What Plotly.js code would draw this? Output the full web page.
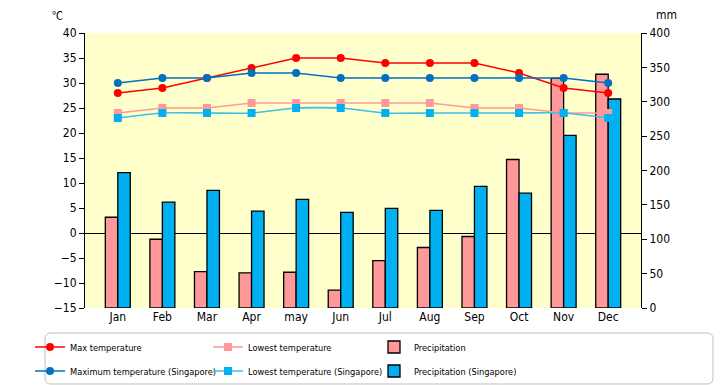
<!DOCTYPE html>
<html>
<head>
<meta charset="utf-8">
<script src="https://cdn.plot.ly/plotly-3.0.1.min.js"></script>
<style>html,body{margin:0;padding:0;background:#fff;}#chart{width:720px;height:385px;}</style>
</head>
<body>
<div id="chart"></div>
<script>
const months = ["Jan","Feb","Mar","Apr","may","Jun","Jul","Aug","Sep","Oct","Nov","Dec"];
const maxTemp = [28,29,31,33,35,35,34,34,34,32,29,28];
const lowTemp = [24,25,25,26,26,26,26,26,25,25,24,24];
const precip = [132,100,53,51,52,26,69,88,104,216,334,340];
const maxTempSg = [30,31,31,32,32,31,31,31,31,31,31,30];
const lowTempSg = [23,24,24,24,25,25,24,24,24,24,24,23];
const precipSg = [197,154,171,141,158,139,145,142,177,167,251,304];

const FONT = '"DejaVu Sans Condensed", "Liberation Sans", sans-serif';

const traces = [
  {type:'bar', name:'Precipitation', x:months, y:precip, yaxis:'y', legend:'legend3',
   marker:{color:'#FF9999', line:{color:'#000', width:1.3}}},
  {type:'bar', name:'Precipitation (Singapore)', x:months, y:precipSg, yaxis:'y', legend:'legend6',
   marker:{color:'#00B0F0', line:{color:'#000', width:1.3}}},
  {type:'scatter', mode:'lines+markers', name:'Max temperature', x:months, y:maxTemp, yaxis:'y2', legend:'legend',
   line:{color:'#FF0000', width:1.4}, marker:{symbol:'circle', size:8, color:'#FF0000'}},
  {type:'scatter', mode:'lines+markers', name:'Lowest temperature', x:months, y:lowTemp, yaxis:'y2', legend:'legend2',
   line:{color:'#FF9999', width:1.4}, marker:{symbol:'square', size:8, color:'#FF9999'}},
  {type:'scatter', mode:'lines+markers', name:'Maximum temperature (Singapore)', x:months, y:maxTempSg, yaxis:'y2', legend:'legend4',
   line:{color:'#0070C0', width:1.4}, marker:{symbol:'circle', size:8, color:'#0070C0'}},
  {type:'scatter', mode:'lines+markers', name:'Lowest temperature (Singapore)', x:months, y:lowTempSg, yaxis:'y2', legend:'legend5',
   line:{color:'#3CC0E8', width:1.6, shape:'spline', smoothing:0.6}, marker:{symbol:'square', size:8, color:'#00B0F0'}}
];

const L = 85, R = 641, T = 33, B = 308;
const pw = R - L, ph = B - T;
function px(x){ return (x - L) / pw; }
function py(y){ return (B - y) / ph; }
const bx0 = px(45), bx1 = px(713), by0 = py(384), by1 = py(333);
const rx = 6 / pw, ry = 6 / ph;
const framePath = `M ${bx0+rx} ${by1} L ${bx1-rx} ${by1} Q ${bx1} ${by1} ${bx1} ${by1-ry} L ${bx1} ${by0+ry} Q ${bx1} ${by0} ${bx1-rx} ${by0} L ${bx0+rx} ${by0} Q ${bx0} ${by0} ${bx0} ${by0+ry} L ${bx0} ${by1-ry} Q ${bx0} ${by1} ${bx0+rx} ${by1} Z`;

function leg(textX, rowY){
  return {orientation:'v', xanchor:'left', yanchor:'middle', x:px(textX - 40), y:py(rowY),
    bgcolor:'rgba(0,0,0,0)', borderwidth:0, font:{family:FONT, size:9.2}, itemclick:false};
}

const layout = {
  width:720, height:385,
  margin:{l:L, r:720-R, t:T, b:385-B, pad:0, autoexpand:false},
  paper_bgcolor:'#FFFFFF', plot_bgcolor:'#FFFFCC',
  font:{family:FONT, size:11, color:'#000'},
  barmode:'group', bargap:0.44, bargroupgap:0,
  showlegend:true,
  xaxis:{type:'category', showgrid:false, showline:false, ticks:'', tickfont:{size:12}, fixedrange:true},
  yaxis:{side:'right', range:[0,400], dtick:50, showgrid:false, zeroline:false, showline:true, linecolor:'#000', linewidth:1,
         ticks:'outside', ticklen:5, tickcolor:'#000', tickfont:{size:12}},
  yaxis2:{side:'left', overlaying:'y', range:[-15,40], dtick:5, showgrid:false, zeroline:true, zerolinecolor:'#000', zerolinewidth:1,
          showline:true, linecolor:'#000', linewidth:1, ticks:'outside', ticklen:5, tickcolor:'#000', tickfont:{size:12}},
  legend: leg(70, 347),
  legend2: leg(248, 347),
  legend3: leg(414, 347),
  legend4: leg(70, 371),
  legend5: leg(248, 371),
  legend6: leg(414, 371),
  shapes:[{type:'path', xref:'paper', yref:'paper', path:framePath, line:{color:'#BFBFBF', width:1}, fillcolor:'rgba(0,0,0,0)'}],
  annotations:[
    {text:'℃', xref:'paper', yref:'paper', x:px(57), y:py(15), xanchor:'center', yanchor:'middle', showarrow:false,
     font:{family:'"Noto Sans CJK JP", sans-serif', size:11}},
    {text:'mm', xref:'paper', yref:'paper', x:px(666), y:py(15), xanchor:'center', yanchor:'middle', showarrow:false,
     font:{family:FONT, size:12}}
  ]
};

Plotly.newPlot('chart', traces, layout, {displayModeBar:false, staticPlot:true});
</script>
</body>
</html>
